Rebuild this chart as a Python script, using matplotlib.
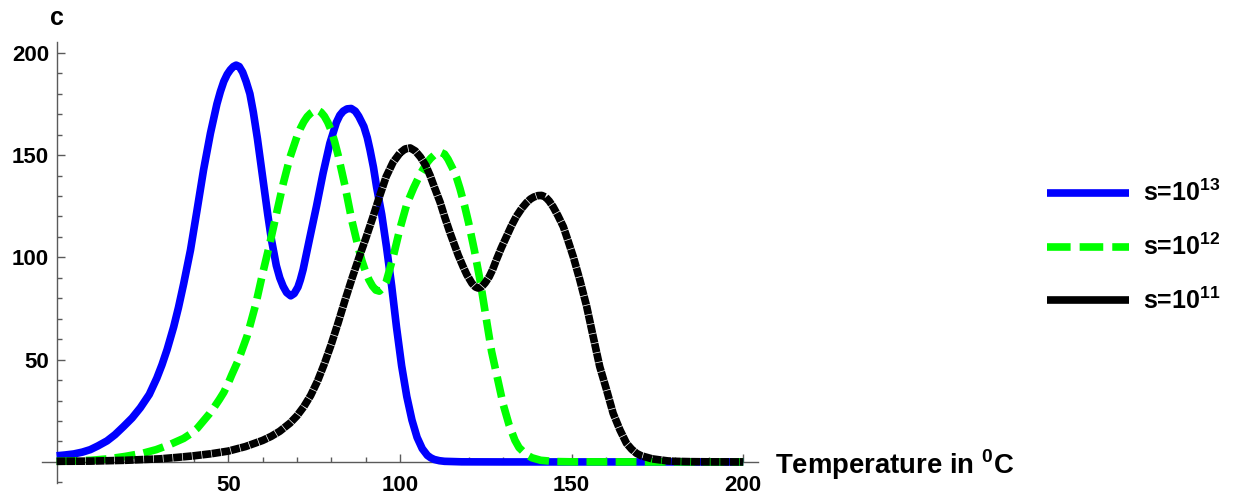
import matplotlib
matplotlib.use("Agg")
import matplotlib.pyplot as plt
from matplotlib.lines import Line2D
from matplotlib.ticker import MultipleLocator, FixedLocator

# ---- data (temperature in degC, intensity c) ----
t_s13 = [0, 2.5, 5, 7.5, 9.8, 12, 14.7, 17, 19.5, 22, 24.4, 27, 29.2, 30.7, 32.2, 34.1,
         35.5, 37, 39, 40.9, 42.8, 44.8, 46.7, 47.7, 48.7, 49.7, 50.6, 51.5, 52.3, 53.2,
         54.2, 55.2, 56.3, 57.3, 58.5, 60.2, 61.5, 62.6, 64, 65, 66, 67, 68.2, 69.2, 70.3,
         71, 71.8, 73.8, 75.7, 77.6, 79.6, 81.5, 82.5, 83.5, 84.6, 85.8, 87, 88, 89.5,
         90.5, 91.3, 92.3, 93.2, 94.7, 96.1, 97.6, 99, 100.5, 102, 103.5, 105, 106.5,
         108, 109, 110, 111.5, 113, 118, 130, 160, 200]
c_s13 = [3, 3.4, 3.9, 4.8, 6, 7.8, 10.3, 13.3, 17.3, 21.5, 26.5, 33, 41, 47.5, 55, 66,
         75.5, 87, 103.6, 123, 142.7, 160.6, 175, 181, 186, 189.5, 191.7, 193.3, 194, 193.3,
         190.5, 186, 180, 171, 158, 137, 121, 108.5, 96, 90, 85.8, 82.8, 81.2, 82.3, 85.5,
         89, 94, 110, 125, 141, 155.8, 166, 169.5, 171.5, 172.6, 172.8, 171.5, 169, 164,
         158.5, 152.5, 144, 134.5, 121, 105, 86, 66, 47, 32, 20.5, 12, 6.5,
         3.2, 2, 1.2, 0.6, 0.3, 0.05, 0, 0, 0]

t_s12 = [0, 5, 10, 15, 20, 25, 29, 33, 37, 39, 41, 43, 44.5, 46, 47.4, 48.7, 50, 51, 53,
         55.5, 58, 60, 62, 64, 66, 68, 70, 71, 72, 73, 74, 75, 76, 77, 78, 79, 80, 81, 82,
         84, 86, 88, 89, 90, 91, 92, 93, 94, 95, 96, 98, 100, 102, 104, 106, 108, 109, 110,
         111, 112.1, 113, 114, 115.5, 116.5, 117.5, 118.8, 120, 121.7, 123.4, 125.1, 126.7,
         128.4, 130.1, 131.8, 133.5, 134.7, 136, 137.2, 138.5, 141, 145, 150, 170, 200]
c_s12 = [0.3, 0.5, 0.8, 1.5, 2.7, 4.2, 6, 8.5, 11.5, 13.7, 16.5, 20.5, 23.5, 27, 30.5, 34,
         38.5, 42.5, 50, 61.6, 77, 92, 106, 121, 136, 149, 159, 163, 166.3, 168.8, 170.5,
         171.6, 172, 171, 169, 166, 162, 156.5, 150, 135, 118, 104, 98, 93, 89, 86, 84,
         83.5, 85, 88, 100, 114, 126, 134, 141, 146.5, 148.5, 150, 151, 151.2, 150.5, 148,
         143, 139, 133.6, 125.5, 117, 103.4, 88.3, 70.5, 54, 41, 28, 18.1, 10.6, 7, 4.9,
         3.2, 2.0, 0.8, 0.2, 0.05, 0, 0]

t_s11 = [0, 10, 20, 30, 35, 40, 45, 50, 55, 60, 62.5, 65, 68, 70, 72, 74, 76, 78, 80, 82,
         84, 86, 88, 90, 92, 94, 96, 98, 100, 101.5, 103, 104.5, 106, 107.5, 108.8, 110,
         111.7, 113, 114.6, 117, 118.4, 119.5, 121, 122, 122.8, 123.8, 124.8, 126, 127,
         128.1, 129.5, 131, 132.5, 133.9, 135.5, 136.9, 138, 139, 140.2, 141.3, 142.4,
         143.5, 144.6, 146, 147.6, 149, 150.5, 152.4, 154.4, 156.3, 158.2, 160.2, 162.1,
         164.1, 166, 167.5, 168.9, 170.3, 171.8, 173.5, 175.7, 178, 180, 185, 190, 200]
c_s11 = [0.3, 0.4, 0.8, 1.5, 2.2, 3.0, 4.0, 5.3, 7.5, 10.5, 12.5, 15, 19, 22.5, 27, 32.5,
         39.5, 48, 57.5, 68, 79, 89.5, 99.5, 109, 119, 129.5, 139.5, 146.5, 151, 153, 153.5,
         152, 149, 145, 140, 134.5, 127, 120, 112, 101, 95.5, 91.5, 87.3, 85.5, 85, 85.6,
         87.5, 90.5, 94, 98.8, 104.5, 110, 115.5, 120, 124, 126.8, 128.5, 129.5, 130.2,
         130.3, 129.5, 127.5, 124.8, 120.5, 115, 108, 100.3, 89, 76, 61.2, 46.6, 35.2,
         23.8, 15.6, 9.1, 6.2, 4.2, 3.0, 2.3, 1.5, 1.0, 0.5, 0.3, 0.12, 0.05, 0]

labels = [r"s=10$^{\mathbf{13}}$", r"s=10$^{\mathbf{12}}$", r"s=10$^{\mathbf{11}}$"]
x_major = [50, 100, 150, 200]
y_major = [50, 100, 150, 200]

# ---- styling ----
plt.rcParams['font.family'] = ['Liberation Sans', 'DejaVu Sans']
plt.rcParams['mathtext.fontset'] = 'custom'
plt.rcParams['mathtext.rm'] = 'Liberation Sans'
plt.rcParams['mathtext.bf'] = 'Liberation Sans:bold'
plt.rcParams['lines.scale_dashes'] = False

W, H = 1238, 499
fig = plt.figure(figsize=(W / 100, H / 100), dpi=100)
left_px, right_px, top_px, bot_px = 42, 758, 42, 483
ax = fig.add_axes([left_px / W, 1 - bot_px / H, (right_px - left_px) / W, (bot_px - top_px) / H])
ax.set_xlim(-4.25, 204.3)
ax.set_ylim(-10.3, 205.3)

axcol = '#5a5a5a'
for s in ['top', 'right']:
    ax.spines[s].set_visible(False)
ax.spines['left'].set_position(('data', 0))
ax.spines['bottom'].set_position(('data', 0))
for s in ['left', 'bottom']:
    ax.spines[s].set_color(axcol)
    ax.spines[s].set_linewidth(1.0)

ax.xaxis.set_major_locator(FixedLocator(x_major))
ax.xaxis.set_minor_locator(MultipleLocator(10))
ax.yaxis.set_major_locator(FixedLocator(y_major))
ax.yaxis.set_minor_locator(FixedLocator([-10] + [v for v in range(10, 201, 10) if v % 50]))
ax.tick_params(axis='x', which='major', direction='in', length=5.5, width=1, color=axcol,
               pad=9.5, labelsize=16)
ax.tick_params(axis='x', which='minor', direction='in', length=3.5, width=1, color=axcol)
ax.tick_params(axis='y', which='major', direction='in', length=5.5, width=1, color=axcol,
               pad=5.5, labelsize=16)
ax.tick_params(axis='y', which='minor', direction='in', length=3.5, width=1, color=axcol)
for lab in ax.get_xticklabels() + ax.get_yticklabels():
    lab.set_fontweight('bold')

lw = 5.5
ax.plot(t_s13, c_s13, color='#0000ff', lw=lw, solid_capstyle='butt', zorder=3,
        solid_joinstyle='round', clip_on=False)
ax.plot(t_s12, c_s12, color='#00ff00', lw=lw, linestyle=(0, (15, 6)),
        dash_capstyle='butt', dash_joinstyle='round', zorder=4, clip_on=False)
ax.plot(t_s11, c_s11, color='black', lw=lw, linestyle=(0, (6.5, 0.5)),
        dash_capstyle='butt', dash_joinstyle='round', zorder=5, clip_on=False)

ax.text(0, 213.5, 'c', fontsize=18, fontweight='bold', ha='center', va='baseline',
        clip_on=False)
ax.text(209.2, -1.5, r"Temperature in $^{\mathbf{0}}$C", fontsize=19.8, fontweight='bold',
        ha='left', va='center', clip_on=False)

handles = [Line2D([], [], color='#0000ff', lw=lw, solid_capstyle='butt'),
           Line2D([], [], color='#00ff00', lw=lw, linestyle=(0, (17, 6.5)), dash_capstyle='butt'),
           Line2D([], [], color='black', lw=lw, solid_capstyle='butt')]
leg = fig.legend(handles, labels, loc='upper left', bbox_to_anchor=(1047 / W, 1 - 180 / H),
                 frameon=False, fontsize=18, handlelength=3.28, handletextpad=0.56,
                 labelspacing=1.1, borderpad=0, borderaxespad=0)
for t in leg.get_texts():
    t.set_fontweight('bold')

fig.savefig('out.png', dpi=100)
